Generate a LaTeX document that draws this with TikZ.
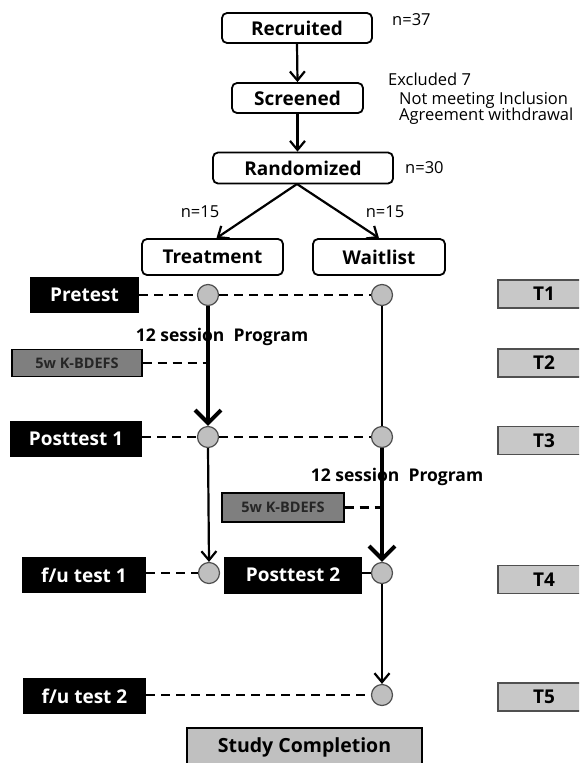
\documentclass[tikz,border=0pt]{standalone}
\usepackage{fontspec}
\setmainfont{Open Sans}
\usetikzlibrary{arrows.meta}
\definecolor{dotgray}{HTML}{BFBFBF}
\definecolor{tgray}{HTML}{C8C8C8}
\definecolor{kgray}{HTML}{7F7F7F}
\definecolor{sgray}{HTML}{C0C0C0}
\definecolor{edgegray}{HTML}{505050}
\begin{document}
\begin{tikzpicture}[x=1pt,y=-1pt,
  topbox/.style={draw, line width=1.8pt, rounded corners=5pt, inner sep=0pt,
    font=\fontsize{19}{21}\selectfont\bfseries},
  blk/.style={fill=black, text=white, inner sep=0pt, minimum height=36pt,
    font=\fontsize{19}{21}\selectfont\bfseries},
  kbox/.style={fill=kgray, draw=black, line width=1.4pt, inner sep=0pt,
    font=\fontsize{14.5}{16}\selectfont\bfseries, text=black!85},
  tbox/.style={fill=tgray, draw=edgegray, line width=1.4pt, inner sep=0pt,
    minimum width=92pt, minimum height=28pt,
    font=\fontsize{19}{21}\selectfont\bfseries},
  dotnode/.style={circle, fill=dotgray, draw=edgegray, line width=1.2pt,
    minimum size=21pt, inner sep=0pt},
  dashlink/.style={line width=2.4pt, dash pattern=on 9pt off 6pt},
  arr/.style={line width=2.2pt, -{Straight Barb[length=9pt,width=15pt,line width=2.2pt]}},
  thickarr/.style={line width=4.5pt, -{Straight Barb[length=13pt,width=26pt,line width=4pt]}},
  thinline/.style={line width=2.2pt},
  lbl/.style={font=\fontsize{16.5}{18}\selectfont, inner sep=0pt, anchor=west},
  prog/.style={font=\fontsize{17.5}{19}\selectfont\bfseries, inner sep=0pt}
]
\useasboundingbox (0,0) rectangle (579,763);
\clip (0,0) rectangle (579,763);
\fill[white] (0,0) rectangle (579,763);

% top flow
\node[topbox, minimum width=150pt, minimum height=30pt] (rec) at (297,28) {Recruited};
\node[topbox, minimum width=131pt, minimum height=30pt] (scr) at (297.5,98) {Screened};
\node[topbox, minimum width=180pt, minimum height=31pt] (rand) at (303,168) {Randomized};
\node[topbox, minimum width=141pt, minimum height=36pt] (treat) at (212.5,257) {Treatment};
\node[topbox, minimum width=132pt, minimum height=36pt] (wait) at (379,257) {Waitlist};

\node[lbl] (n37) at (392,20) {n=37};
\node[lbl] (exc) at (388,79) {Excluded 7};
\node[lbl] (exa) at (399,100) {Not meeting Inclusion};
\node[lbl] (exb) at (399,116) {Agreement withdrawal};
\node[lbl] (n30) at (405,168) {n=30};
\node[lbl, anchor=center] (n15a) at (200,212) {n=15};
\node[lbl, anchor=center] (n15b) at (385,212) {n=15};

\coordinate (apex) at (297,184);
\draw[arr] (rec.south) -- (scr.north);
\draw[arr] (scr.south) -- (scr.south |- rand.north);
\draw[arr] (apex) -- ([xshift=4pt]treat.north);
\draw[arr] (apex) -- (wait.north);

% left labels
\node[blk, minimum width=109pt] (pre) at (84.5,295) {Pretest};
\node[kbox, minimum width=130pt, minimum height=27pt] (k1) at (77,363) {5w K-BDEFS};
\node[blk, minimum width=132pt] (post1) at (76,439) {Posttest 1};
\node[kbox, minimum width=122pt, minimum height=29pt] (k2) at (283,507.5) {5w K-BDEFS};
\node[blk, minimum width=124pt] (fu1) at (84,575) {f/u test 1};
\node[blk, minimum width=138pt, minimum height=37pt] (post2) at (293,575) {Posttest 2};
\node[blk, minimum width=123pt] (fu2) at (84.5,696) {f/u test 2};
\node[draw=black, fill=sgray, line width=1.8pt, minimum width=235pt, minimum height=38pt,
  inner sep=0pt, font=\fontsize{19.5}{21}\selectfont\bfseries] (done) at (304.5,747) {Study Completion};

% time points
\node[tbox] (t1) at (544,294) {T1};
\node[tbox] (t2) at (544,363) {T2};
\node[tbox] (t3) at (544,440.5) {T3};
\node[tbox] (t4) at (544,579.5) {T4};
\node[tbox] (t5) at (544,697) {T5};

% program labels
\node[prog] (prog1) at (222,337) {12 session\ \ Program};
\node[prog] (prog2) at (397,477) {12 session\ \ Program};

% circles
\node[dotnode] (c1t) at (208,295) {};
\node[dotnode] (c1w) at (382,295) {};
\node[dotnode] (c3t) at (208,437) {};
\node[dotnode] (c3w) at (382,437) {};
\node[dotnode] (c4t) at (209,573) {};
\node[dotnode] (c4w) at (382,573) {};
\node[dotnode] (c5w) at (382,695) {};

% dashed links
\draw[dashlink] (pre.east |- c1t) -- (c1t.west);
\draw[dashlink] (c1t.east) -- (c1w.west);
\draw[dashlink] (k1.east) -- (k1.east -| c1t);
\draw[dashlink] (post1.east |- c3t) -- (c3t.west);
\draw[dashlink] (c3t.east) -- (c3w.west);
\draw[dashlink] (k2.east) -- (k2.east -| c3w);
\draw[dashlink] (fu1.east |- c4t) -- (c4t.west);
\draw[dashlink] (post2.east |- c4w) -- (c4w.west);
\draw[dashlink] (fu2.east |- c5w) -- (c5w.west);

% vertical flows
\draw[thickarr] (c1t.south) -- (c3t.north);
\draw[thinline] (c1w.south) -- (c3w.north);
\draw[arr] (c3t.south) -- (c4t.north);
\draw[thickarr] (c3w.south) -- (c4w.north);
\draw[arr] (c4w.south) -- (c5w.north);
\end{tikzpicture}
\end{document}
